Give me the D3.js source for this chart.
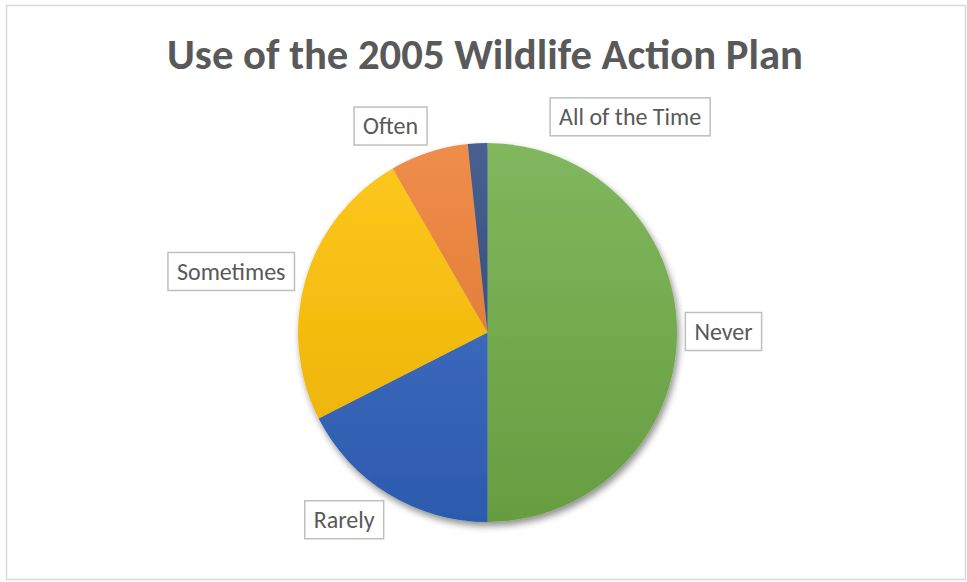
<!DOCTYPE html>
<html>
<head>
<meta charset="utf-8">
<script src="https://cdn.jsdelivr.net/npm/d3@7"></script>
<style>
  html, body { margin: 0; padding: 0; background: #fff; }
  svg { display: block; }
</style>
</head>
<body>
<svg id="chart" width="967" height="582"></svg>
<script>
// Survey responses: how often the 2005 Wildlife Action Plan is used
const categories = ["Never", "Rarely", "Sometimes", "Often", "All of the Time"];
const responses  = [60, 21, 29, 8, 2];
const sliceColors = ["#70AD47", "#3063BE", "#FFC000", "#ED7D31", "#2E4A80"];
const chartTitle = "Use of the 2005 Wildlife Action Plan";

// Label nudges (px) from the default outside-end anchor, per category
const labelNudge = {
  "Never": [0, -1],
  "Rarely": [-20, -14],
  "Sometimes": [-30, 6],
  "Often": [-24, 18],
  "All of the Time": [155, 20]
};

const W = 967, H = 582;
const cx = 487.5, cy = 332.5, R = 189.5;
const font = "Carlito, Calibri, 'Open Sans', sans-serif";

const svg = d3.select("#chart");
const defs = svg.append("defs");

// Soft outer shadow under the pie
const shadow = defs.append("filter").attr("id", "pieShadow")
  .attr("x", "-20%").attr("y", "-20%").attr("width", "140%").attr("height", "140%");
shadow.append("feGaussianBlur").attr("in", "SourceAlpha").attr("stdDeviation", 3.5).attr("result", "b");
shadow.append("feOffset").attr("in", "b").attr("dx", 1.5).attr("dy", 4).attr("result", "o");
shadow.append("feComponentTransfer").attr("in", "o").attr("result", "s")
  .append("feFuncA").attr("type", "linear").attr("slope", 0.45);
const merge = shadow.append("feMerge");
merge.append("feMergeNode").attr("in", "s");
merge.append("feMergeNode").attr("in", "SourceGraphic");

// Vertical light-to-dark gradient for each slice colour (pie-local coordinates)
sliceColors.forEach((c, i) => {
  const g = defs.append("linearGradient").attr("id", "grad" + i)
    .attr("gradientUnits", "userSpaceOnUse")
    .attr("x1", 0).attr("y1", -R).attr("x2", 0).attr("y2", R);
  g.append("stop").attr("offset", "0%").attr("stop-color", d3.interpolateRgb(c, "#ffffff")(0.12));
  g.append("stop").attr("offset", "100%").attr("stop-color", d3.interpolateRgb(c, "#000000")(0.09));
});

// Chart border
svg.append("rect")
  .attr("x", 6.5).attr("y", 5.5).attr("width", 959).attr("height", 574)
  .attr("fill", "#fff").attr("stroke", "#d9d9d9").attr("stroke-width", 1.5);

// Title
svg.append("text")
  .attr("x", 485).attr("y", 69)
  .attr("text-anchor", "middle")
  .attr("font-family", font)
  .attr("font-weight", "bold")
  .attr("font-size", 42.7)
  .attr("fill", "#595959")
  .text(chartTitle);

// Pie
const data = categories.map((c, i) => ({ cat: c, value: responses[i], idx: i }));
const pie = d3.pie().value(d => d.value).sort(null);
const arcs = pie(data);
const arc = d3.arc().innerRadius(0).outerRadius(R);

const pieG = svg.append("g").attr("transform", `translate(${cx},${cy})`);
pieG.append("g").attr("filter", "url(#pieShadow)")
  .selectAll("path").data(arcs).join("path")
  .attr("d", arc)
  .attr("fill", d => `url(#grad${d.data.idx})`);

// Data labels in boxes, anchored outside the slice's mid angle
const labelR = R + 46.5;
const labelG = svg.append("g");
arcs.forEach(a => {
  const mid = (a.startAngle + a.endAngle) / 2;
  const nudge = labelNudge[a.data.cat] || [0, 0];
  const x = cx + labelR * Math.sin(mid) + nudge[0];
  const y = cy - labelR * Math.cos(mid) + nudge[1];
  const g = labelG.append("g").attr("transform", `translate(${x},${y})`);
  const rect = g.append("rect").attr("fill", "#fff").attr("stroke", "#bfbfbf").attr("stroke-width", 1.5);
  const t = g.append("text")
    .attr("text-anchor", "middle").attr("dy", "0.35em")
    .attr("font-family", font).attr("font-size", 24)
    .attr("fill", "#595959")
    .text(a.data.cat);
  const w = t.node().getComputedTextLength() + 18;
  rect.attr("x", -w / 2).attr("y", -19).attr("width", w).attr("height", 38);
});
</script>
</body>
</html>
